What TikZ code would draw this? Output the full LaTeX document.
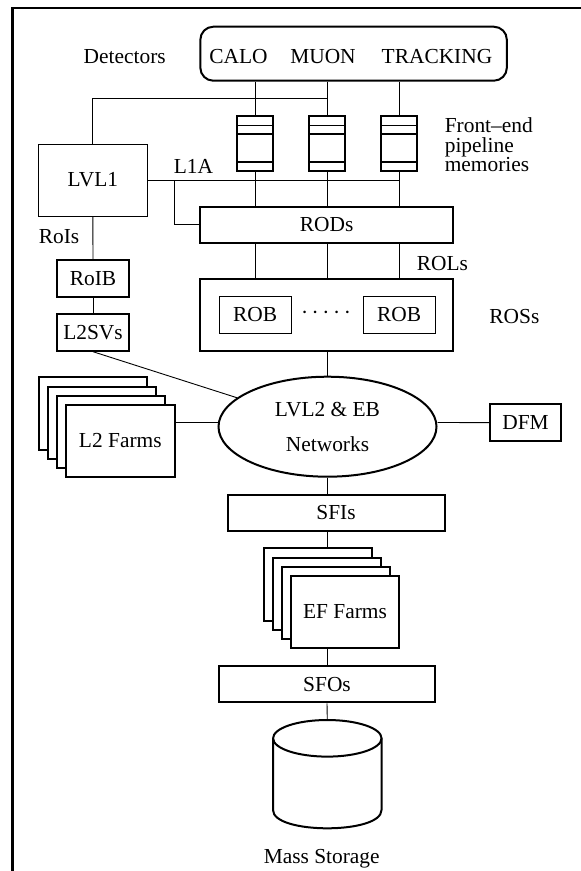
\documentclass[tikz,border=0pt]{standalone}
\usepackage{fontspec}
\setmainfont{Liberation Serif}
\usetikzlibrary{shapes.geometric,calc}
\begin{document}
\begin{tikzpicture}[x=1pt,y=-1pt,
  every node/.style={font=\fontsize{21.4}{22}\selectfont, inner sep=0pt},
  thickbox/.style={draw, line width=2pt, fill=white},
  thinbox/.style={draw, line width=1pt, fill=white},
  conn/.style={line width=0.9pt},
  membox/.style={draw, line width=2pt, fill=white, minimum width=36pt, minimum height=54.4pt,
    path picture={
      \draw[line width=1.5pt] ([yshift=-9pt]path picture bounding box.north west) -- ([yshift=-9pt]path picture bounding box.north east);
      \draw[line width=1.5pt] ([yshift=-17.7pt]path picture bounding box.north west) -- ([yshift=-17.7pt]path picture bounding box.north east);
      \draw[line width=1.5pt] ([yshift=-45.7pt]path picture bounding box.north west) -- ([yshift=-45.7pt]path picture bounding box.north east);
    }},
  farmbox/.style={thickbox, minimum width=108.5pt, minimum height=72.3pt}]
\useasboundingbox (0,0) rectangle (581,871);

% frame
\draw[line width=2.4pt] (581,8) -- (12.5,8) -- (12.5,871);

% detectors
\node[thickbox, rounded corners=13pt, minimum width=306.5pt, minimum height=54pt] (det) at (353.6,53.7) {};
\node (detlbl) at (124.7,56.7) {Detectors};
\node (calo) at (238.5,56.7) {CALO};
\node (muon) at (323,56.7) {MUON};
\node (tracking) at (437,56.7) {TRACKING};

% pipeline memories
\node[membox] (mem1) at (255,143.5) {};
\node[membox] (mem2) at (327,143.5) {};
\node[membox] (mem3) at (399,143.5) {};
\node[anchor=north west, align=left, font=\fontsize{21.4}{19.6}\selectfont] (fe) at (444.6,117.6) {Front--end\\pipeline\\memories};

\draw[conn] (mem1.north |- det.south) -- (mem1.north);
\draw[conn] (mem2.north |- det.south) -- (mem2.north);
\draw[conn] (mem3.north |- det.south) -- (mem3.north);

% LVL1
\node[thinbox, minimum width=108.7pt, minimum height=72pt] (lvl1) at (92.85,180) {LVL1};
\coordinate (muonbr) at (327,98.7);
\draw[conn] (muonbr) -| (lvl1.north);
\node (l1a) at (193.5,166.7) {L1A};

% RODs
\node[thickbox, minimum width=252.4pt, minimum height=36pt] (rods) at (326.6,224.7) {RODs};
\draw[conn] (mem1.south) -- (mem1.south |- rods.north);
\draw[conn] (mem2.south) -- (mem2.south |- rods.north);
\draw[conn] (mem3.south) -- (mem3.south |- rods.north);
\coordinate (l1aend) at (399,180);
\coordinate (l1ajn) at (174,180);
\draw[conn] (lvl1.east) -- (l1aend);
\draw[conn] (l1ajn) |- (rods.west);

% ROS
\node[thickbox, minimum width=252.4pt, minimum height=72.3pt] (ros) at (326.6,314.85) {};
\node[thinbox, minimum width=72.2pt, minimum height=36.3pt] (rob1) at (255.1,314.85) {ROB};
\node[thinbox, minimum width=72.2pt, minimum height=36.3pt] (rob2) at (399.1,314.85) {ROB};
\node (dots) at (326,315) {·\,·\,·\,·\,·};
\draw[conn] (mem1.south |- rods.south) -- (mem1.south |- ros.north);
\draw[conn] (mem2.south |- rods.south) -- (mem2.south |- ros.north);
\draw[conn] (mem3.south |- rods.south) -- (mem3.south |- ros.north);
\node (rols) at (442.5,263.3) {ROLs};
\node (ross) at (514.4,316.7) {ROSs};

% RoIB / L2SV
\node (rois) at (59,236.7) {RoIs};
\node[thickbox, minimum width=72.6pt, minimum height=36.4pt] (roib) at (93,278.5) {RoIB};
\node[thickbox, minimum width=72.6pt, minimum height=36.4pt] (l2sv) at (93,332.5) {L2SVs};
\draw[conn] (lvl1.south) -- (roib.north);
\draw[conn] (roib.south) -- (l2sv.north);

% network
\node[draw, ellipse, line width=2pt, minimum width=218pt, minimum height=100pt, align=center,
  font=\fontsize{21.4}{35}\selectfont] (net) at (327.5,426.7) {LVL2 \& EB\\Networks};
\draw[conn] (l2sv.south) -- (net);
\draw[conn] (net.north |- ros.south) -- (net.north);

% L2 farms
\node[farmbox] (l2fa) at (93,413.6) {};
\node[farmbox] (l2fb) at (102.1,422.7) {};
\node[farmbox] (l2fc) at (111.2,431.8) {};
\node[farmbox, text depth=-8pt] (l2fd) at (120.3,440.9) {L2 Farms};
\coordinate (hy) at (0,422.5);
\draw[conn] (l2fd.east |- hy) -- (net.west |- hy);

% DFM
\node[thickbox, minimum width=71.5pt, minimum height=36.7pt] (dfm) at (525.5,422.6) {DFM};
\draw[conn] (net.east |- hy) -- (dfm.west);

% SFIs
\node[thickbox, minimum width=217pt, minimum height=36pt] (sfis) at (336,513) {SFIs};
\draw[conn] (net.south) -- (net.south |- sfis.north);

% EF farms
\node[farmbox] (efa) at (318.1,584.6) {};
\node[farmbox] (efb) at (327.05,593.7) {};
\node[farmbox] (efc) at (336,602.8) {};
\node[farmbox, text depth=-6pt] (efd) at (344.95,611.9) {EF Farms};
\draw[conn] (net.south |- sfis.south) -- (net.south |- efa.north);

% SFOs
\node[thickbox, minimum width=216.3pt, minimum height=36.3pt] (sfos) at (327,684.2) {SFOs};
\draw[conn] (net.south |- efd.south) -- (net.south |- sfos.north);

% mass storage
\coordinate (cyl) at (327.3,720);
\draw[conn] (sfos.south) -- (cyl);
\draw[line width=2pt, fill=white] (273,738.3) -- (273,810) .. controls (273,834.4) and (381.5,834.4) .. (381.5,810) -- (381.5,738.3);
\draw[line width=2pt] (327.3,738.3) ellipse [x radius=54.25pt, y radius=18.3pt];
\node (mass) at (321.7,858.3) {Mass Storage};
\end{tikzpicture}
\end{document}
